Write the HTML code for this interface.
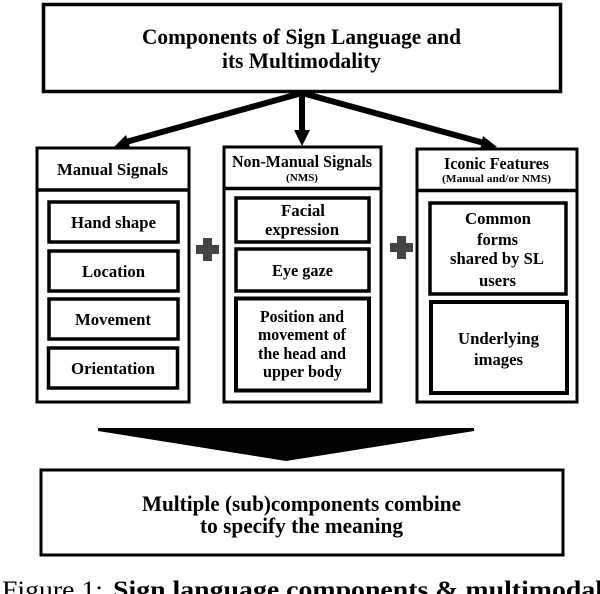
<!DOCTYPE html>
<html><head><meta charset="utf-8"><style>
html,body{margin:0;padding:0;background:#fff;width:600px;height:594px;overflow:hidden}
svg{display:block;filter:blur(0.35px)}
text{font-family:"Liberation Serif",serif;font-weight:bold;fill:#000}
rect{fill:#fff;stroke:#000}
</style></head><body>
<svg width="600" height="594" viewBox="0 0 600 594" xmlns="http://www.w3.org/2000/svg">
<rect x="43.500" y="4.500" width="517" height="87" stroke-width="3.500"/>
<text x="142" y="44" font-size="22.500" textLength="319" lengthAdjust="spacingAndGlyphs">Components of Sign Language and</text>
<text x="222" y="68" font-size="22.500" textLength="159" lengthAdjust="spacingAndGlyphs">its Multimodality</text>

<g stroke="#000" stroke-width="6" fill="none">
<line x1="302" y1="93" x2="302" y2="132"/>
<line x1="302" y1="93" x2="126" y2="142"/>
<line x1="302" y1="93" x2="484" y2="143"/>
</g>
<polygon points="294,130 310,130 302,146" fill="#000"/>
<polygon points="126,135 131,150 114,147" fill="#000"/>
<polygon points="483,136 480,150 497,147" fill="#000"/>

<rect x="37" y="148" width="152" height="254" stroke-width="3"/>
<line x1="37" y1="190" x2="189" y2="190" stroke="#000" stroke-width="3.500"/>
<rect x="224" y="147" width="157" height="255" stroke-width="3"/>
<line x1="224" y1="188.500" x2="381" y2="188.500" stroke="#000" stroke-width="3.500"/>
<rect x="417" y="149" width="160" height="253" stroke-width="3"/>
<line x1="417" y1="190.500" x2="577" y2="190.500" stroke="#000" stroke-width="3.500"/>

<rect x="49" y="202" width="129" height="40" stroke-width="3.500"/>
<rect x="49" y="251" width="129" height="40" stroke-width="3.500"/>
<rect x="49" y="299" width="129" height="40" stroke-width="3.500"/>
<rect x="48.500" y="348" width="129" height="40" stroke-width="3.500"/>

<rect x="236" y="198" width="133" height="44" stroke-width="3.500"/>
<rect x="236" y="249" width="133" height="42" stroke-width="3.500"/>
<rect x="236" y="298.500" width="133" height="92" stroke-width="4"/>

<rect x="430" y="203" width="136" height="91" stroke-width="3.500"/>
<rect x="431" y="302" width="136" height="91" stroke-width="4"/>

<path d="M203 238h9v7h7v9h-7v7h-9v-7h-7v-9h7z" fill="#444"/>
<path d="M397 236h9v7h7v9h-7v7h-9v-7h-7v-9h7z" fill="#444"/>

<text x="57" y="175" font-size="16.500" textLength="111" lengthAdjust="spacingAndGlyphs">Manual Signals</text>
<text x="232" y="167" font-size="16.500" textLength="140" lengthAdjust="spacingAndGlyphs">Non-Manual Signals</text>
<text x="286" y="181" font-size="10.500" textLength="32" lengthAdjust="spacingAndGlyphs">(NMS)</text>
<text x="444" y="169" font-size="16.500" textLength="105" lengthAdjust="spacingAndGlyphs">Iconic Features</text>
<text x="442" y="182" font-size="10.500" textLength="109" lengthAdjust="spacingAndGlyphs">(Manual and/or NMS)</text>

<text x="71" y="228" font-size="16.500" textLength="85" lengthAdjust="spacingAndGlyphs">Hand shape</text>
<text x="82" y="277" font-size="16.500" textLength="63" lengthAdjust="spacingAndGlyphs">Location</text>
<text x="75" y="325" font-size="16.500" textLength="76" lengthAdjust="spacingAndGlyphs">Movement</text>
<text x="71" y="374" font-size="16.500" textLength="84" lengthAdjust="spacingAndGlyphs">Orientation</text>

<text x="281" y="216" font-size="16.500" textLength="44" lengthAdjust="spacingAndGlyphs">Facial</text>
<text x="265" y="235" font-size="16.500" textLength="74" lengthAdjust="spacingAndGlyphs">expression</text>
<text x="272" y="276" font-size="16.500" textLength="61" lengthAdjust="spacingAndGlyphs">Eye gaze</text>
<text x="260" y="322" font-size="16.500" textLength="84" lengthAdjust="spacingAndGlyphs">Position and</text>
<text x="258" y="340" font-size="16.500" textLength="88" lengthAdjust="spacingAndGlyphs">movement of</text>
<text x="258" y="359" font-size="16.500" textLength="88" lengthAdjust="spacingAndGlyphs">the head and</text>
<text x="263" y="377" font-size="16.500" textLength="79" lengthAdjust="spacingAndGlyphs">upper body</text>

<text x="465" y="224" font-size="16.500" textLength="66" lengthAdjust="spacingAndGlyphs">Common</text>
<text x="477" y="245" font-size="16.500" textLength="41" lengthAdjust="spacingAndGlyphs">forms</text>
<text x="450" y="264" font-size="16.500" textLength="94" lengthAdjust="spacingAndGlyphs">shared by SL</text>
<text x="479" y="286" font-size="16.500" textLength="37" lengthAdjust="spacingAndGlyphs">users</text>
<text x="458" y="344" font-size="16.500" textLength="81" lengthAdjust="spacingAndGlyphs">Underlying</text>
<text x="474" y="365" font-size="16.500" textLength="49" lengthAdjust="spacingAndGlyphs">images</text>

<polygon points="98,428 474,428 474,431 286,461 98,431" fill="#000"/>

<rect x="41" y="470" width="522" height="85" stroke-width="3"/>
<text x="142" y="511" font-size="22.500" textLength="319" lengthAdjust="spacingAndGlyphs">Multiple (sub)components combine</text>
<text x="200" y="533" font-size="22.500" textLength="203" lengthAdjust="spacingAndGlyphs">to specify the meaning</text>

<text x="2" y="598" font-size="25" textLength="101" lengthAdjust="spacingAndGlyphs" style="font-weight:normal">Figure 1:</text>
<text x="113" y="598" font-size="25" textLength="490" lengthAdjust="spacingAndGlyphs">Sign language components &amp; multimodal</text>
</svg>
</body></html>
